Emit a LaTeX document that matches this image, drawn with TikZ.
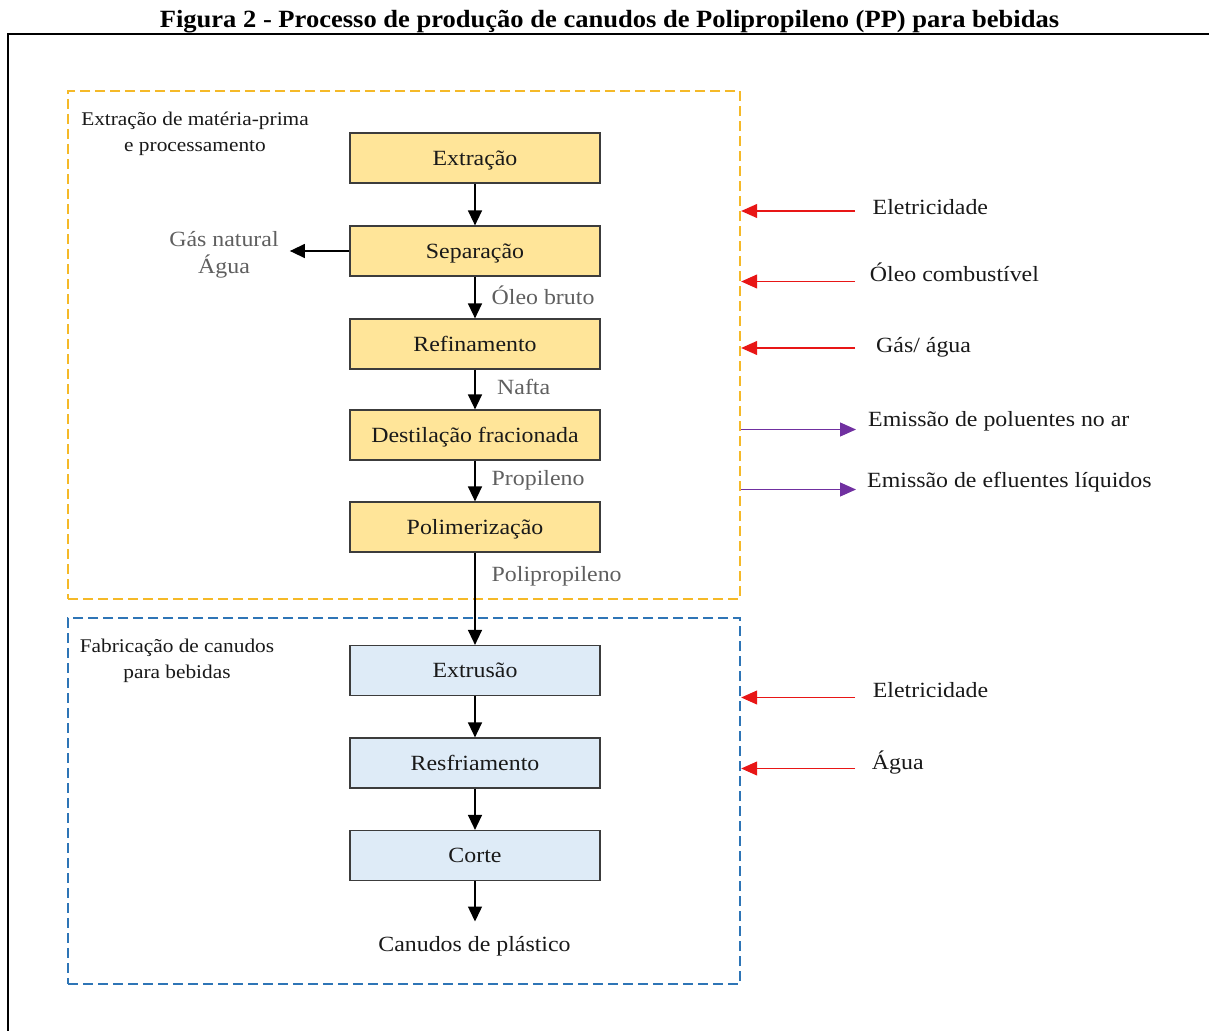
\documentclass[tikz,border=0pt]{standalone}
\usepackage{fontspec}
\setmainfont{Liberation Serif}[FakeStretch=1.1]
\newfontfamily\titlefont{Liberation Serif}[FakeStretch=1.07]
\usetikzlibrary{arrows.meta}

\definecolor{boxgold}{RGB}{255,229,153}
\definecolor{boxblue}{RGB}{222,235,247}
\definecolor{framegold}{RGB}{245,185,40}
\definecolor{frameblue}{RGB}{46,117,182}
\definecolor{inred}{RGB}{232,22,22}
\definecolor{outpurple}{RGB}{112,48,160}
\definecolor{flowgrey}{RGB}{95,95,95}
\definecolor{ink}{RGB}{25,25,25}

\begin{document}
\begin{tikzpicture}[x=1pt,y=-1pt,
  stage/.style={draw=ink!85, line width=1.2pt, minimum width=250pt, minimum height=50pt,
    inner sep=0pt, text=ink, font=\fontsize{21.7}{26}\selectfont,
    text height=14pt, text depth=0pt},
  goldstage/.style={stage, fill=boxgold},
  bluestage/.style={stage, fill=boxblue},
  flow/.style={draw=black, line width=1.4pt, -{Triangle[length=15pt,width=14pt]}},
  flowlabel/.style={anchor=base west, inner sep=0pt, text=flowgrey, font=\fontsize{21.7}{26}\selectfont},
  sidelabel/.style={anchor=base west, inner sep=0pt, text=ink, font=\fontsize{21.7}{26}\selectfont},
  inarrow/.style={draw=inred, line width=1.2pt, -{Triangle[length=16pt,width=14pt]}},
  outarrow/.style={draw=outpurple, line width=1.2pt, -{Triangle[length=16pt,width=14pt]}},
  group/.style={dash pattern=on 10pt off 5pt, line width=2.4pt, minimum width=672pt, inner sep=0pt},
  grouplabel/.style={align=center, inner sep=0pt, text=ink, font=\fontsize{19.4}{26}\selectfont},
]
\useasboundingbox (0,0) rectangle (1209,1030);
\fill[white] (0,0) rectangle (1209,1030);

% title and page frame
\node[anchor=base, inner sep=0pt, text=black,
  font=\titlefont\bfseries\fontsize{24.8}{30}\selectfont] (title) at (609.5,27.7)
  {Figura 2 - Processo de produção de canudos de Polipropileno (PP) para bebidas};
\draw[line width=2.2pt] (8,1032) -- (8,34.3) -- (1211,34.3);

% process groups
\node[group, draw=framegold, minimum height=508pt] (rawbox) at (404,345) {};
\node[group, draw=frameblue, minimum height=366pt] (makebox) at (404,801) {};
\node[grouplabel] (rawlabel) at (195,134) {Extração de matéria-prima\\e processamento};
\node[grouplabel] (makelabel) at (177,661) {Fabricação de canudos\\para bebidas};

% raw material stages
\node[goldstage] (ext) at (475,158) {Extração};
\node[goldstage] (sep) at (475,251) {Separação};
\node[goldstage] (ref) at (475,344) {Refinamento};
\node[goldstage] (dest) at (475,435) {Destilação fracionada};
\node[goldstage] (pol) at (475,527) {Polimerização};

% straw manufacturing stages
\node[bluestage] (extr) at (475,670.5) {Extrusão};
\node[bluestage] (resf) at (475,763) {Resfriamento};
\node[bluestage] (corte) at (475,855.5) {Corte};
\node[anchor=base, inner sep=0pt, text=ink, font=\fontsize{21.7}{26}\selectfont,
  text height=15pt, inner ysep=15pt] (out) at (474.5,951.7) {Canudos de plástico};

% main flow
\draw[flow] (ext) -- (sep);
\draw[flow] (sep) -- (ref);
\draw[flow] (ref) -- (dest);
\draw[flow] (dest) -- (pol);
\draw[flow] (pol) -- (extr);
\draw[flow] (extr) -- (resf);
\draw[flow] (resf) -- (corte);
\draw[flow] (corte.south) -- (corte.south |- out.north);

% intermediate products
\node[flowlabel] (oleo) at (491.5,304) {Óleo bruto};
\node[flowlabel] (nafta) at (497,394) {Nafta};
\node[flowlabel] (prop) at (491.5,485) {Propileno};
\node[flowlabel] (pp) at (491.5,581.5) {Polipropileno};

% by-products of separation
\node[align=center, text=flowgrey, font=\fontsize{21.7}{27}\selectfont,
  inner ysep=0pt, inner xsep=11pt] (gas) at (224,255) {Gás natural\\Água};
\draw[flow] (sep.west) -- (sep.west -| gas.east);

% inputs and outputs of the raw material stage
\node[sidelabel] (elec1) at (872.5,214.3) {Eletricidade};
\node[sidelabel] (fuel) at (869.7,281.7) {Óleo combustível};
\node[sidelabel] (gasw) at (876,352) {Gás/ água};
\node[sidelabel] (air) at (868,426.7) {Emissão de poluentes no ar};
\node[sidelabel] (liq) at (867,487) {Emissão de efluentes líquidos};
\coordinate (inElec1) at (855,211);
\coordinate (inFuel) at (855,281.5);
\coordinate (inGas) at (855,348);
\coordinate (outAir) at (856,429.5);
\coordinate (outLiq) at (856,489.5);
\draw[inarrow] (inElec1) -- (inElec1 -| rawbox.east);
\draw[inarrow] (inFuel) -- (inFuel -| rawbox.east);
\draw[inarrow] (inGas) -- (inGas -| rawbox.east);
\draw[outarrow] (outAir -| rawbox.east) -- (outAir);
\draw[outarrow] (outLiq -| rawbox.east) -- (outLiq);

% inputs of the manufacturing stage
\node[sidelabel] (elec2) at (872.7,697.3) {Eletricidade};
\node[sidelabel] (water) at (871.7,769) {Água};
\coordinate (inElec2) at (855,697.5);
\coordinate (inWater) at (855,768.5);
\draw[inarrow] (inElec2) -- (inElec2 -| makebox.east);
\draw[inarrow] (inWater) -- (inWater -| makebox.east);
\end{tikzpicture}
\end{document}
